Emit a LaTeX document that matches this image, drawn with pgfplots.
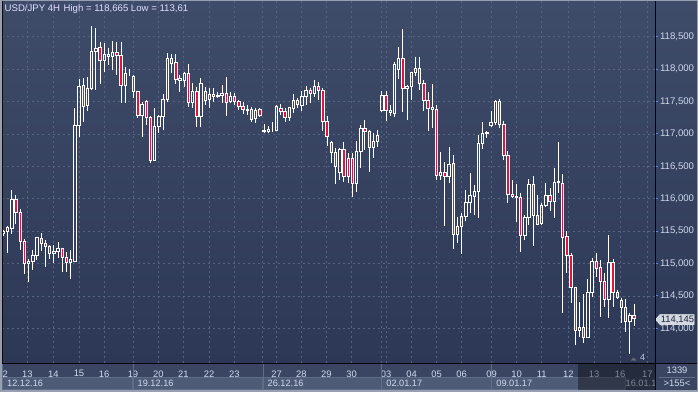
\documentclass[border=0pt]{standalone}
\usepackage{pgfplots}
\pgfplotsset{compat=1.18}
\usepackage{pgfplotstable}
\usepackage{fontspec}
\setmainfont{Liberation Sans}
\definecolor{bgtop}{RGB}{62,75,105}
\definecolor{bgbot}{RGB}{44,56,86}
\definecolor{gridc}{RGB}{86,99,131}
\definecolor{candred}{RGB}{226,20,60}
\definecolor{lblc}{RGB}{206,218,238}
\definecolor{dayrow}{RGB}{58,70,97}
\definecolor{daterow}{RGB}{62,74,101}
\definecolor{datebox}{RGB}{78,91,118}
\definecolor{dateborder}{RGB}{96,109,136}
\definecolor{tickblue}{RGB}{96,136,224}
\definecolor{framec}{RGB}{150,160,178}
\definecolor{tagc}{RGB}{212,216,224}
\definecolor{tagtext}{RGB}{28,38,62}

\pgfplotstableread{
k o h l c
0 115.466 115.512 115.430 115.491
1 115.491 115.574 115.157 115.553
2 115.543 116.134 115.455 115.995
3 115.995 116.052 115.605 115.790
4 115.790 115.841 115.203 115.337
5 115.347 115.373 114.833 115.003
6 115.003 115.064 114.720 115.039
7 115.028 115.209 114.900 115.131
8 115.131 115.414 115.054 115.399
9 115.388 115.466 115.193 115.306
10 115.316 115.363 114.951 115.265
11 115.270 115.286 115.064 115.152
12 115.152 115.286 115.003 115.188
13 115.183 115.327 115.090 115.234
14 115.234 115.245 114.864 115.100
15 115.100 115.173 114.864 115.018
16 115.018 115.209 114.756 115.064
17 115.039 117.395 115.018 117.127
18 117.137 117.842 116.957 117.739
19 117.744 117.858 117.179 117.431
20 117.436 117.873 117.359 117.703
21 117.703 118.665 117.678 118.279
22 118.279 118.640 117.673 118.321
23 118.336 118.423 117.770 118.130
24 118.130 118.398 117.950 118.228
25 118.202 118.331 118.063 118.228
26 118.202 118.434 117.986 118.259
27 118.259 118.423 117.909 118.207
28 118.218 118.413 117.482 117.744
29 117.744 118.038 117.472 117.935
30 117.935 118.002 117.899 117.935
31 117.883 117.909 117.549 117.652
32 117.652 117.667 117.240 117.292
33 117.286 117.497 116.957 117.456
34 117.497 117.523 117.137 117.256
35 117.256 117.276 116.546 116.587
36 116.597 117.394 116.587 117.112
37 117.112 117.292 117.009 117.266
38 117.266 117.610 117.060 117.533
39 117.533 118.243 117.497 118.166
40 118.166 118.233 117.935 118.089
41 118.104 118.233 117.765 117.842
42 117.821 117.909 117.652 117.857
43 117.821 117.960 117.729 117.935
44 117.935 118.079 117.420 117.482
45 117.482 117.780 117.394 117.662
46 117.662 117.729 117.101 117.266
47 117.266 117.857 117.112 117.780
48 117.652 117.729 117.446 117.523
49 117.533 117.703 117.394 117.616
50 117.575 117.703 117.497 117.616
51 117.575 117.652 117.549 117.600
52 117.590 117.755 117.472 117.626
53 117.626 117.873 117.276 117.482
54 117.497 117.652 117.472 117.585
55 117.585 117.626 117.446 117.502
56 117.497 117.523 117.369 117.431
57 117.431 117.497 117.307 117.379
58 117.369 117.446 117.292 117.379
59 117.379 117.420 117.189 117.225
60 117.240 117.394 117.163 117.369
61 117.379 117.394 117.266 117.292
62 117.035 117.148 117.009 117.061
63 117.035 117.122 117.020 117.076
64 117.076 117.179 117.025 117.076
65 117.061 117.446 117.050 117.431
66 117.395 117.462 117.292 117.343
67 117.354 117.395 117.189 117.256
68 117.256 117.421 117.200 117.405
69 117.395 117.611 117.318 117.524
70 117.524 117.549 117.405 117.457
71 117.446 117.662 117.354 117.585
72 117.575 117.740 117.446 117.678
73 117.678 117.714 117.482 117.626
74 117.626 117.832 117.575 117.729
75 117.729 117.806 117.524 117.678
76 117.678 117.704 117.045 117.189
77 117.189 117.282 116.819 116.958
78 116.865 116.891 116.546 116.716
79 116.716 116.788 116.222 116.495
80 116.407 116.788 116.289 116.767
81 116.767 116.881 116.263 116.340
82 116.623 116.700 116.238 116.340
83 116.623 116.700 116.032 116.238
84 116.238 116.891 116.109 116.726
85 116.726 117.138 116.469 117.086
86 117.086 117.215 116.752 117.035
87 117.045 117.061 116.418 116.788
88 116.788 117.009 116.623 116.891
89 116.891 117.061 116.803 116.984
90 117.369 117.662 117.333 117.601
91 117.601 117.662 117.205 117.369
92 117.333 117.446 117.282 117.369
93 117.318 118.105 117.266 118.074
94 117.997 118.347 117.850 118.167
95 118.167 118.619 117.344 117.704
96 117.704 117.755 117.215 117.740
97 117.729 117.961 117.524 117.951
98 117.951 118.192 117.900 118.012
99 118.012 118.192 117.678 117.781
100 117.781 117.832 117.354 117.518
101 117.524 117.652 117.045 117.395
102 117.374 117.765 117.086 117.405
103 117.385 117.446 116.289 116.366
104 116.366 116.726 116.289 116.407
105 116.407 116.562 115.584 116.340
106 116.340 116.803 116.238 116.531
107 116.546 116.675 115.224 115.451
108 115.451 115.723 115.312 115.569
109 115.569 115.775 115.142 115.734
110 115.723 116.135 115.656 115.944
111 115.944 116.392 115.775 116.047
112 116.032 116.212 115.749 116.119
113 116.109 116.984 115.708 116.855
114 116.855 117.179 116.767 117.009
115 117.009 117.045 116.932 117.025
116 117.138 117.354 117.112 117.179
117 117.179 117.524 117.138 117.498
118 117.508 117.539 117.097 117.148
119 117.148 117.200 116.598 116.665
120 116.675 116.737 115.929 116.068
121 116.068 116.289 116.006 116.032
122 116.017 116.222 115.646 116.032
123 116.021 116.083 115.183 115.430
124 115.440 115.750 115.363 115.712
125 115.712 116.299 115.594 116.222
126 116.222 116.350 115.270 115.748
127 115.748 116.057 115.594 115.609
128 115.614 115.939 115.609 115.897
129 115.897 116.247 115.877 116.052
130 116.052 116.160 115.815 115.959
131 115.959 116.468 115.697 116.252
132 116.252 116.870 116.080 116.268
133 116.242 116.376 114.231 115.404
134 115.419 115.501 114.858 115.121
135 115.131 115.167 114.385 114.632
136 114.632 114.642 113.742 113.963
137 113.963 114.401 113.871 114.015
138 114.015 114.524 113.778 113.860
139 113.860 114.756 113.845 114.555
140 114.555 115.080 114.488 115.038
141 115.038 115.167 114.797 114.925
142 114.935 115.054 114.169 114.719
143 114.730 114.848 114.334 114.447
144 114.447 115.440 114.154 115.018
145 115.018 115.069 114.334 114.555
146 114.555 114.591 114.447 114.478
147 114.426 114.462 114.077 114.323
148 114.323 114.452 113.948 114.102
149 114.102 114.241 113.610 114.205
150 114.205 114.375 114.035 114.145
}\candles

\pgfplotsset{
  chartbase/.style={
    at={(2.5pt,29pt)}, anchor=south west,
    width=652.5pt, height=363pt, scale only axis,
    xmin=-0.19, xmax=154.98, ymin=113.464, ymax=119.066,
  }
}

\begin{document}
\begin{tikzpicture}[x=1pt,y=1pt]
\useasboundingbox (0,0) rectangle (698,392);
% backgrounds
\fill[top color=bgtop, bottom color=bgbot] (0,29) rectangle (698,392);
\fill[dayrow] (0,15) rectangle (698,29);
\fill[daterow] (0,0) rectangle (698,15);

\begin{axis}[chartbase,
  axis line style={draw=none},
  ytick={114,114.5,115,115.5,116,116.5,117,117.5,118,118.5},
  yticklabel pos=right,
  ytick pos=right,
  yticklabel style={font=\fontsize{9.6}{10}\selectfont, text=lblc, anchor=west, xshift=-1pt,
    /pgf/number format/.cd, fixed, fixed zerofill, precision=3, use comma, 1000 sep={}, assume math mode=true},
  ytick style={draw=tickblue, line width=0.9pt},
  major tick length=2.5pt,
  tick align=outside,
  xtick={5.71,11.89,18.00,23.95,30.84,36.86,42.81,48.92,54.93,61.52,64.97,70.87,76.81,82.85,89.99,91.01,97.12,103.07,109.01,116.15,122.09,128.04,134.36,140.48,146.66,153.15},
  xticklabels={13,14,15,16,19,20,21,22,23,,27,28,29,30,,03,04,05,06,09,10,11,12,13,16,17},
  extra x ticks={0.45},
  extra x tick labels={2},
  extra x tick style={xmajorgrids=false},
  xticklabel style={font=\fontsize{9.4}{10}\selectfont, text=lblc, anchor=center, yshift=-8.3pt},
  xtick style={draw=none},
  xmajorgrids, ymajorgrids,
  grid style={draw=gridc, dash pattern=on 2pt off 3pt, line width=0.7pt},
]
% upper wicks
\addplot[draw=none, mark=none, forget plot,
  error bars/.cd, y dir=minus, y explicit, error mark=none,
  error bar style={draw=white, solid, line width=0.9pt}]
  table[x=k, y=h, y error minus expr={\thisrow{h}-max(\thisrow{o},\thisrow{c})}] {\candles};
% lower wicks
\addplot[draw=none, mark=none, forget plot,
  error bars/.cd, y dir=minus, y explicit, error mark=none,
  error bar style={draw=white, solid, line width=0.9pt}]
  table[x=k, y expr={min(\thisrow{o},\thisrow{c})}, y error minus expr={min(\thisrow{o},\thisrow{c})-\thisrow{l}}] {\candles};
\end{axis}

\begin{axis}[chartbase, hide axis, ybar stacked, bar width=2.4pt]
\addplot[draw=none, fill=none] table[x=k, y expr={min(\thisrow{o},\thisrow{c})}] {\candles};
\addplot[draw=white, fill=none, line width=0.8pt] table[x=k, y expr={max(\thisrow{c}-\thisrow{o},0)}] {\candles};
\addplot[draw=white, fill=candred, line width=0.8pt] table[x=k, y expr={max(\thisrow{o}-\thisrow{c},0)}] {\candles};
\end{axis}

% title
\node[anchor=base west, font=\fontsize{9.6}{10}\selectfont, text=white!88!blue, inner sep=0pt] at (4.5,381) {USD/JPY 4H\hspace{3.5pt}High = 118,665 Low = 113,61};

% date boxes
\foreach \a/\b/\t in {2.5/132.5/12.12.16, 133/262.5/19.12.16, 263/381.2/26.12.16, 381.7/491.2/02.01.17, 491.7/625/09.01.17}{
  \filldraw[fill=datebox, draw=dateborder, line width=0.6pt] (\a,2.5) rectangle (\b,14.5);
  \node[anchor=west, font=\fontsize{9.2}{10}\selectfont, text=lblc, inner sep=0pt] at (\a+4.5,8.4) {\t};
  \draw[dateborder, line width=0.6pt] (\a,14.5) -- (\a,28.5);
}
\node[anchor=west, font=\fontsize{9.2}{10}\selectfont, text=lblc, inner sep=0pt] at (625.5,8.4) {16.01.17};
% scroll overlay
\fill[black, opacity=0.38] (578,2) rectangle (655,28.6);

% right bottom cell
\fill[dayrow] (655,0) rectangle (698,28.6);
\draw[dateborder, line width=0.6pt] (659,15) -- (695,15);
\node[font=\fontsize{9.4}{10}\selectfont, text=lblc] at (677,21.5) {1339};
\node[font=\fontsize{9.4}{10}\selectfont, text=lblc] at (677,9) {>155<};

% price tag
\filldraw[fill=tagc, draw=white!70!tagc, line width=0.5pt] (655.5,72.5) -- (660,77.5) -- (694,77.5) -- (694,67.5) -- (660,67.5) -- cycle;
\node[font=\fontsize{9.4}{10}\selectfont, text=tagtext] at (677.5,72.5) {114,145};
\node[font=\fontsize{9}{10}\selectfont, text=lblc!80!tickblue] at (642.5,34.5) {4};
\fill[gray!70!bgbot] (630.5,31.5) -- (636.5,31.5) -- (633.5,34.5) -- cycle;

% frame lines
\draw[black, line width=1pt] (655,2) -- (655,392);
\draw[black, line width=1pt] (2,29) -- (698,29);
\draw[black!80!bgbot, line width=0.8pt] (2.6,29) -- (2.6,392);
\draw[framec, line width=2pt] (1,0) -- (1,392);
\draw[framec, line width=1.6pt] (0,0.8) -- (698,0.8);
\draw[framec, line width=1pt] (0,391.5) -- (698,391.5);
\draw[framec, line width=1pt] (697.5,0) -- (697.5,392);
\end{tikzpicture}
\end{document}
